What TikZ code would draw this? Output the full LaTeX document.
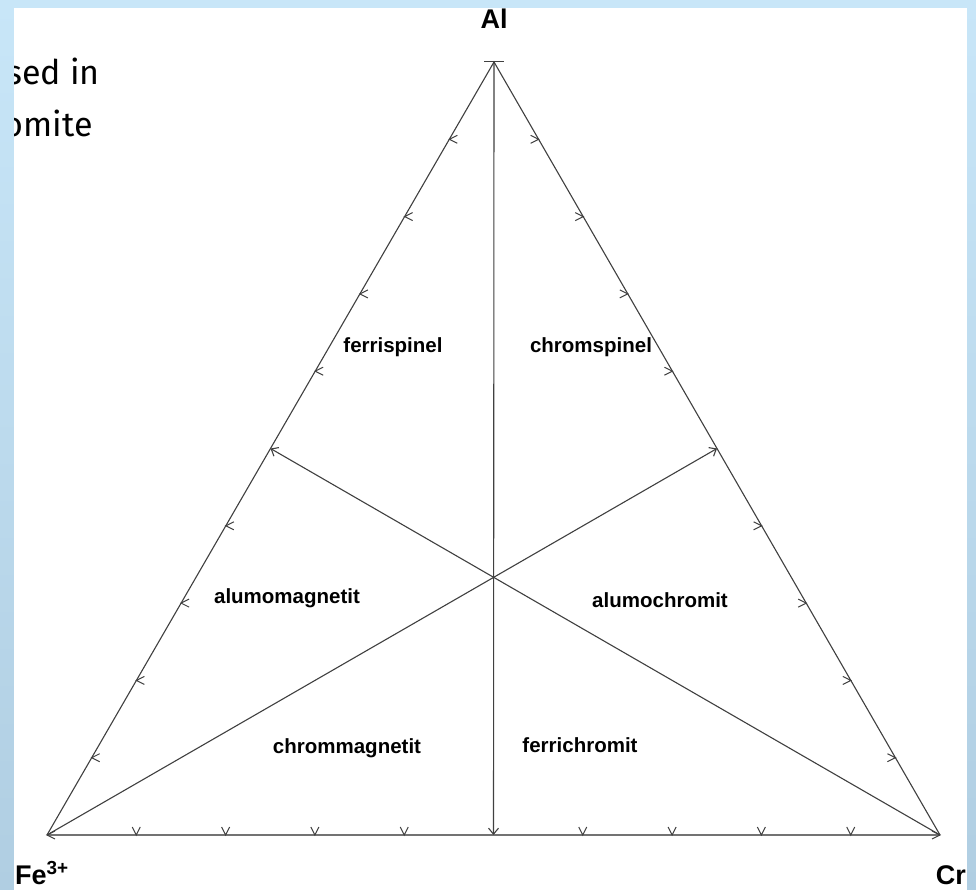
\documentclass[tikz,border=0pt]{standalone}
\usepackage{fontspec}
\setmainfont{Liberation Sans}
\newfontfamily\comicfont{Fira Sans}
\usetikzlibrary{calc,arrows.meta}

\tikzset{
  edge/.style={draw=black!75, line width=1.1pt},
  ticka/.style={draw=black!75, line width=1pt},
  region/.style={font=\fontsize{20.5}{24}\selectfont\bfseries, inner sep=0pt},
  corner/.style={font=\fontsize{27}{30}\selectfont\bfseries, inner sep=0pt},
  tip/.style={-{Straight Barb[length=6pt,width=10pt]}}
}

\begin{document}
\begin{tikzpicture}[x=1pt, y=-1pt]
  \useasboundingbox (0,0) rectangle (976,890);

  % Fondo y hoja blanca
  \shade[top color={rgb,255:red,200;green,230;blue,248}, bottom color={rgb,255:red,176;green,206;blue,226}] (0,0) rectangle (976,890);
  \fill[white] (14,8) rectangle (967,890);

  % Titulo recortado
  \begin{scope}
    \clip (14,8) rectangle (300,200);
    \node[anchor=base east, inner sep=0pt, font=\comicfont\fontsize{34}{40}\selectfont] (tit1) at (100,85) {sed in};
    \node[anchor=base east, inner sep=0pt, font=\comicfont\fontsize{34}{40}\selectfont] (tit2) at (93,137) {omite};
  \end{scope}

  % Vertices
  \coordinate (Al) at (494,62);
  \coordinate (Fe) at (47,835);
  \coordinate (Cr) at (940,835);
  \coordinate (mL) at ($(Fe)!0.5!(Al)$);
  \coordinate (mR) at ($(Cr)!0.5!(Al)$);
  \coordinate (mB) at ($(Fe)!0.5!(Cr)$);

  % Lados del triangulo
  \draw[edge] (Fe) -- (Al) -- (Cr);
  \draw[edge, draw=black!55, line width=1.7pt] (Fe) -- (Cr);

  % Medianas
  \draw[edge, tip] (Al) -- (mB);
  \draw[edge, tip] (Fe) -- (mR);
  \draw[edge, tip] (Cr) -- (mL);

  % Marcas
  \draw[ticka] ($(Al)+(-10,0)$) -- ($(Al)+(10,0)$);
  \foreach \k in {0,1,2,3,4,6,7,8,9}{
    \draw[ticka] ($($(Fe)!\k/10!(Al)$)+(8,-4)$) -- ($(Fe)!\k/10!(Al)$) -- ($($(Fe)!\k/10!(Al)$)+(8,4)$);
    \draw[ticka] ($($(Cr)!\k/10!(Al)$)+(-8,-4)$) -- ($(Cr)!\k/10!(Al)$) -- ($($(Cr)!\k/10!(Al)$)+(-8,4)$);
  }
  \foreach \k in {1,2,3,4,6,7,8,9}{
    \draw[ticka] ($($(Fe)!\k/10!(Cr)$)+(-4,-8)$) -- ($(Fe)!\k/10!(Cr)$) -- ($($(Fe)!\k/10!(Cr)$)+(4,-8)$);
  }

  % Etiquetas de los vertices
  \node[corner] (lAl) at (494,19) {Al};
  \node[corner, anchor=base west] (lFe) at (15,884) {Fe\textsuperscript{3+}};
  \node[corner, anchor=base east] (lCr) at (966,884) {Cr};

  % Campos
  \node[region] (ferrisp) at (393,347) {ferrispinel};
  \node[region] (chromsp) at (591,347) {chromspinel};
  \node[region] (alumomag) at (287,598) {alumomagnetit};
  \node[region] (alumochr) at (660,600) {alumochromit};
  \node[region] (chrommag) at (347,748) {chrommagnetit};
  \node[region] (ferrichr) at (580,745) {ferrichromit};
\end{tikzpicture}
\end{document}
